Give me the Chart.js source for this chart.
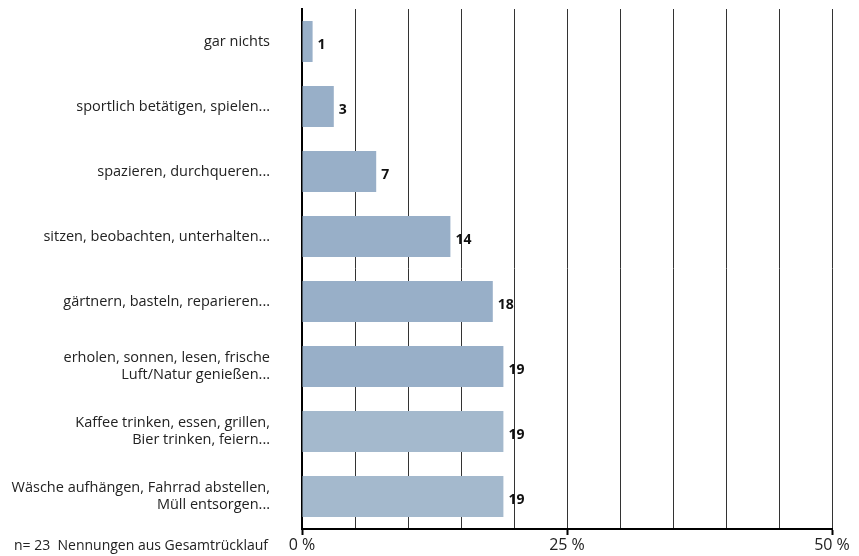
<!DOCTYPE html>
<html>
<head>
<meta charset="utf-8">
<script src="https://cdn.jsdelivr.net/npm/chart.js@4.4.1/dist/chart.umd.min.js"></script>
<style>
html,body{margin:0;padding:0;background:#fff;}
#wrap{position:relative;width:859px;height:556px;}
</style>
</head>
<body>
<div id="wrap"><canvas id="c" width="859" height="556"></canvas></div>
<script>
const categories = [
  "gar nichts",
  "sportlich betätigen, spielen...",
  "spazieren, durchqueren...",
  "sitzen, beobachten, unterhalten...",
  "gärtnern, basteln, reparieren...",
  ["erholen, sonnen, lesen, frische", "Luft/Natur genießen..."],
  ["Kaffee trinken, essen, grillen,", "Bier trinken, feiern..."],
  ["Wäsche aufhängen, Fahrrad abstellen,", "Müll entsorgen..."]
];
const values = [1, 3, 7, 14, 18, 19, 19, 19];
const barColors = ["#98afc8","#98afc8","#98afc8","#98afc8","#98afc8","#98afc8","#a4b9cd","#a4b9cd"];
const labeledTicks = [0, 25, 50];
const footnote = "n= 23  Nennungen aus Gesamtrücklauf";

const FONT = "'Open Sans', Lato, sans-serif";

const valueLabels = {
  id: 'valueLabels',
  afterDatasetsDraw(chart) {
    const ctx = chart.ctx;
    const meta = chart.getDatasetMeta(0);
    ctx.save();
    ctx.font = "bold 14px " + FONT;
    ctx.fillStyle = "#111";
    ctx.textBaseline = "middle";
    ctx.textAlign = "left";
    meta.data.forEach((bar, i) => {
      ctx.fillText(String(values[i]), bar.x + 5, bar.y + 4);
    });
    ctx.restore();
  }
};

const footPlugin = {
  id: 'foot',
  afterDraw(chart) {
    const ctx = chart.ctx;
    ctx.save();
    ctx.font = "14px " + FONT;
    ctx.fillStyle = "#222";
    ctx.textBaseline = "middle";
    ctx.textAlign = "left";
    ctx.fillText(footnote, 14, 546);
    ctx.restore();
  }
};

new Chart(document.getElementById('c'), {
  type: 'bar',
  data: {
    labels: categories,
    datasets: [{
      data: values,
      backgroundColor: barColors,
      borderWidth: 0,
      barPercentage: 0.63,
      categoryPercentage: 1.0
    }]
  },
  options: {
    indexAxis: 'y',
    responsive: false,
    animation: false,
    devicePixelRatio: 1,
    layout: { padding: { top: 9, right: 27, left: 0, bottom: 0 } },
    plugins: { legend: { display: false }, tooltip: { enabled: false } },
    scales: {
      x: {
        min: 0, max: 50,
        z: 1,
        grid: {
          color: "#333",
          lineWidth: 1,
          drawTicks: true,
          tickLength: 6,
          tickColor: (ctx) => (ctx.tick && labeledTicks.includes(ctx.tick.value)) ? "#000" : "rgba(0,0,0,0)",
          tickWidth: 2
        },
        border: { display: true, color: "#000", width: 2 },
        ticks: {
          stepSize: 5,
          autoSkip: false,
          maxRotation: 0,
          padding: 1,
          color: "#222",
          font: { family: FONT, size: 16 },
          callback: (v) => labeledTicks.includes(v) ? v + " %" : ""
        },
        afterFit: (s) => { s.height = 27; s.paddingLeft = 0; s.paddingRight = 0; }
      },
      y: {
        grid: { display: false, drawTicks: false },
        border: { display: true, color: "#000", width: 2 },
        ticks: {
          color: "#222",
          padding: 32,
          font: { family: FONT, size: 14.5, lineHeight: 1.18 }
        },
        afterFit: (s) => { s.width = 302; s.paddingTop = 0; s.paddingBottom = 0; }
      }
    }
  },
  plugins: [valueLabels, footPlugin]
});
</script>
</body>
</html>
